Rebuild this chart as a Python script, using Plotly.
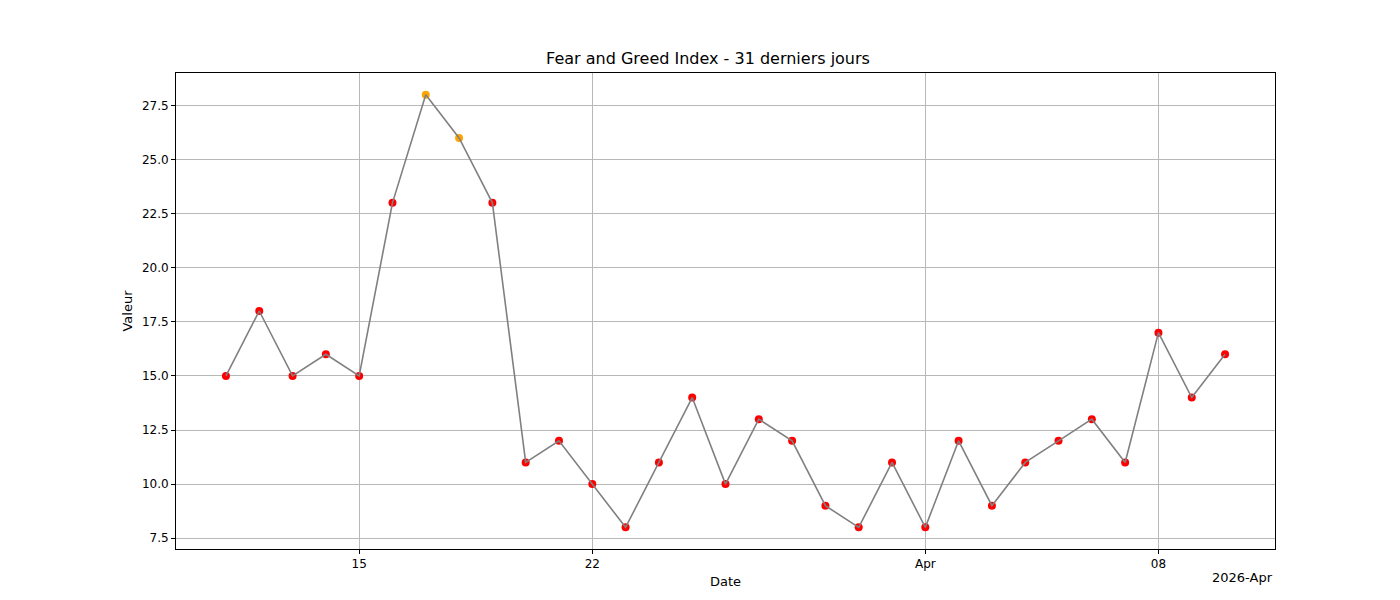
import datetime as dt

import plotly.graph_objects as go

start = dt.date(2026, 3, 11)
values = [15, 18, 15, 16, 15, 23, 28, 26, 23, 11, 12, 10, 8, 11, 14, 10,
          13, 12, 9, 8, 11, 8, 12, 9, 11, 12, 13, 11, 17, 14, 16]
dates = [start + dt.timedelta(days=i) for i in range(len(values))]
colors = ['orange' if v >= 25 else 'red' for v in values]

tick_dates = [dt.date(2026, 3, 15), dt.date(2026, 3, 22), dt.date(2026, 4, 1), dt.date(2026, 4, 8)]
tick_labels = ['15', '22', 'Apr', '08']
y_ticks = [7.5, 10.0, 12.5, 15.0, 17.5, 20.0, 22.5, 25.0, 27.5]

fig = go.Figure()

# Points first, line on top (as in the reference)
fig.add_trace(go.Scatter(x=dates, y=values, mode='markers',
                         marker=dict(color=colors, size=8), showlegend=False))
fig.add_trace(go.Scatter(x=dates, y=values, mode='lines',
                         line=dict(color='gray', width=1.6), showlegend=False))

axis_style = dict(showline=True, linecolor='black', linewidth=1, mirror=True,
                  ticks='outside', ticklen=4, tickcolor='black', automargin=False,
                  showgrid=True, gridcolor='#b8b8b8', gridwidth=1, zeroline=False)

fig.update_layout(
    width=1400, height=600,
    margin=dict(l=168, r=133, t=65, b=59),
    plot_bgcolor='white', paper_bgcolor='white',
    font=dict(family='DejaVu Sans', size=12, color='black'),
    title=dict(text='Fear and Greed Index - 31 derniers jours', x=0.5, xanchor='center',
               y=1 - 50 / 600, yanchor='middle', font=dict(size=16)),
    xaxis=dict(range=[dt.datetime(2026, 3, 9, 12), dt.datetime(2026, 4, 11, 12)],
               tickvals=tick_dates, ticktext=tick_labels,
               title=dict(text='Date', standoff=6, font=dict(size=13)), **axis_style),
    yaxis=dict(range=[7, 29], tickvals=y_ticks, ticktext=[f'{v:.1f}' for v in y_ticks],
               title=dict(text='Valeur', standoff=6, font=dict(size=13)), **axis_style),
    annotations=[dict(text='2026-Apr', xref='paper', yref='paper', x=1, y=-0.04,
                      xanchor='right', yanchor='top', showarrow=False, font=dict(size=13))],
)

fig.write_html("out.html")
